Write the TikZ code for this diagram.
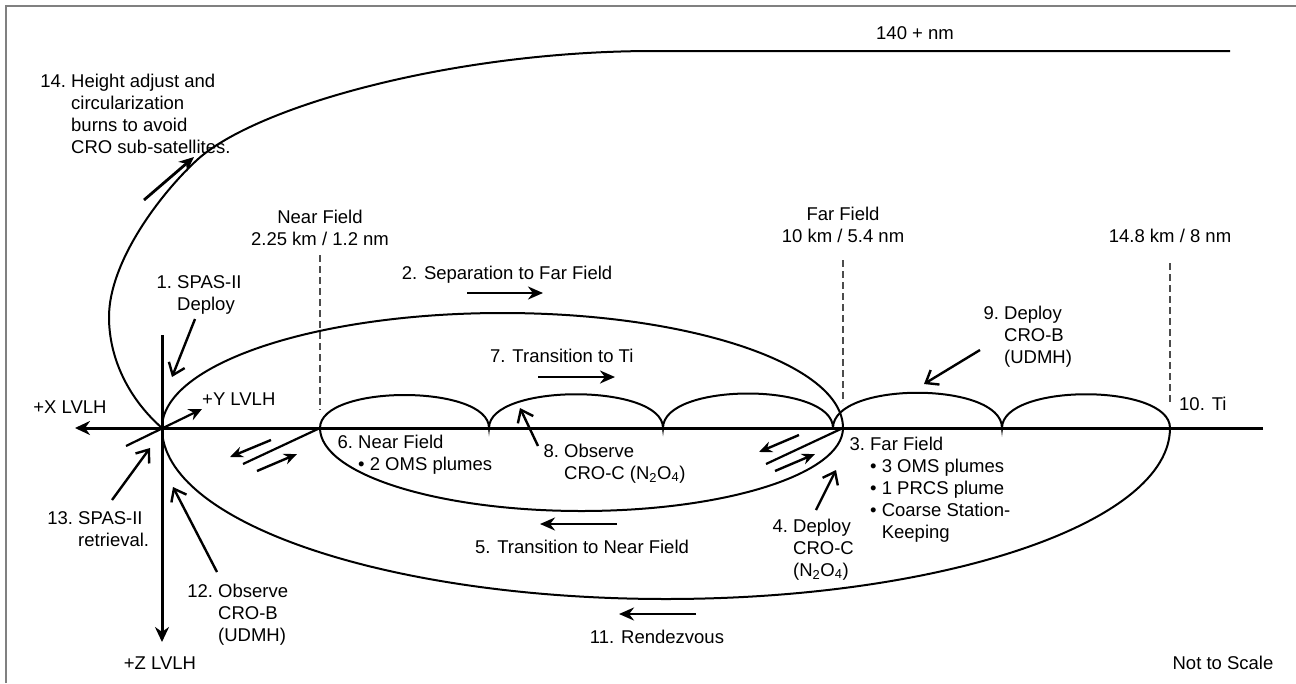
\documentclass[tikz,border=0pt]{standalone}
\usepackage{fontspec}
\setmainfont{Liberation Sans}
\usetikzlibrary{arrows.meta}

\newcommand{\labelrows}[2][l]{\begin{tabular}[t]{@{}#1@{}}#2\end{tabular}}

\begin{document}
\begin{tikzpicture}[
    x=1pt, y=-1pt,
    font=\fontsize{18.5}{22}\selectfont,
    lbl/.style={inner sep=0pt, anchor=base west},
    clbl/.style={inner sep=0pt, anchor=base},
    axis/.style={line width=3pt},
    traj/.style={line width=2pt},
    guide/.style={line width=1.4pt, dash pattern=on 7pt off 4pt, black!70},
    move/.style={-{Stealth[length=15pt,width=13pt]}, line width=2.8pt},
    pmove/.style={-{Stealth[length=13pt,width=11pt]}, line width=2.4pt},
    point/.style={-{Straight Barb[length=11pt,width=17pt]}, line width=2.4pt},
    plume/.style={line width=2.2pt}
]
    \useasboundingbox (0,0) rectangle (1296,683);
    \draw[black!50, line width=1.6pt] (6,683) -- (6,6) -- (1296,6);

    % key points on the V-bar
    \coordinate (O) at (162,428);
    \coordinate (N) at (320,428);
    \coordinate (F) at (843,428);
    \coordinate (H) at (833,428);
    \coordinate (T) at (1170,428);

    % LVLH axes
    \draw[axis, -{Stealth[length=15pt,width=14pt]}] (1263,428) -- (75,428);
    \draw[axis, -{Stealth[length=15pt,width=14pt]}] (162,335) -- (162,642);
    \draw[plume, -{Stealth[length=13pt,width=12pt]}] (126,446) -- (202,409);

    % trajectories
    \draw[traj] (O) .. controls (162,364.5) and (314.5,313) .. (502.5,313)
        .. controls (690.5,313) and (843,364.5) .. (F)
        .. controls (843,473.8) and (725.9,511) .. (581.5,511)
        .. controls (437.1,511) and (320,473.8) .. (N);
    \draw[traj] (O) .. controls (162,522.4) and (387.6,599) .. (666,599)
        .. controls (944.4,599) and (1170,522.4) .. (T);
    \draw[traj] (O) .. controls (130,400) and (109,360) .. (109,317)
        .. controls (109,262) and (160,194) .. (197,160)
        .. controls (256,106) and (454,51) .. (654,51) -- (1230,51);
    \draw[traj] (N) .. controls (320,384) and (489,384) .. (489,428)
        .. controls (489,383) and (663,383) .. (663,428)
        .. controls (663,382) and (833,382) .. (H);
    \draw[traj] (H) .. controls (833,381) and (1002,381) .. (1002,428)
        .. controls (1002,383) and (1170,383) .. (T);

    % range markers
    \draw[guide] (320,255) -- (320,410);
    \draw[guide] (843,260) -- (843,403);
    \draw[guide] (1170,263) -- (1170,405);

    % plumes
    \draw[plume] (N) -- (243,464);
    \draw[pmove] (271,440) -- (230,457);
    \draw[pmove] (257,471) -- (297,454);
    \draw[plume] (F) -- (766,464);
    \draw[pmove] (799,435) -- (759,452);
    \draw[pmove] (775,471) -- (815,454);

    % motion and event arrows
    \draw[move] (144,200) -- (194,157);
    \draw[move] (467,293) -- (543,293);
    \draw[move] (538,377) -- (615,377);
    \draw[move] (617,524) -- (540,524);
    \draw[move] (696,614) -- (619,614);
    \draw[point] (195,319) -- (172,377);
    \draw[point] (112,500) -- (150,448);
    \draw[point] (217,572) -- (173,487);
    \draw[point] (538,446) -- (520,408);
    \draw[point] (816,510) -- (836,470);
    \draw[point] (980,350) -- (924,384);

    % labels
    \node[clbl] (nm140) at (915,39) {140 + nm};
    \node[lbl] (burns) at (71,87) {\labelrows{\llap{14.~}Height adjust and\\circularization\\burns to avoid\\CRO sub-satellites.}};
    \node[clbl] (nearfld) at (320,223) {\labelrows[c]{Near Field\\2.25 km / 1.2 nm}};
    \node[clbl] (farfld) at (843,220) {\labelrows[c]{Far Field\\10 km / 5.4 nm}};
    \node[clbl] (tirange) at (1170,242) {14.8 km / 8 nm};
    \node[clbl] (sep) at (507,279) {2. Separation to Far Field};
    \node[lbl] (deploy) at (177,288) {\labelrows{\llap{1.~}SPAS-II\\Deploy}};
    \node[lbl] (toti) at (490,362) {7. Transition to Ti};
    \node[lbl] (crob) at (1004,319) {\labelrows{\llap{9.~}Deploy\\CRO-B\\(UDMH)}};
    \node[clbl] (xlvlh) at (70,413) {+X LVLH};
    \node[lbl] (ylvlh) at (202,405) {+Y LVLH};
    \node[lbl] (ti) at (1179,410) {10. Ti};
    \node[lbl] (near) at (358,448) {\labelrows{\llap{6.~}Near Field\\\textbullet~2 OMS plumes}};
    \node[lbl] (obsc) at (564,457) {\labelrows{\llap{8.~}Observe\\CRO-C (N\textsubscript{2}O\textsubscript{4})}};
    \node[lbl] (far) at (870,450) {\labelrows{\llap{3.~}Far Field\\\textbullet~3 OMS plumes\\\textbullet~1 PRCS plume\\\textbullet~Coarse Station-\\\phantom{\textbullet~}Keeping}};
    \node[lbl] (croc) at (793,532) {\labelrows{\llap{4.~}Deploy\\CRO-C\\(N\textsubscript{2}O\textsubscript{4})}};
    \node[clbl] (tonear) at (582,553) {5. Transition to Near Field};
    \node[lbl] (retr) at (78,524) {\labelrows{\llap{13.~}SPAS-II\\retrieval.}};
    \node[lbl] (obsb) at (218,597) {\labelrows{\llap{12.~}Observe\\CRO-B\\(UDMH)}};
    \node[clbl] (rdv) at (657,643) {11. Rendezvous};
    \node[clbl] (zlvlh) at (160,669) {+Z LVLH};
    \node[clbl] (nts) at (1223,669) {Not to Scale};
\end{tikzpicture}
\end{document}
